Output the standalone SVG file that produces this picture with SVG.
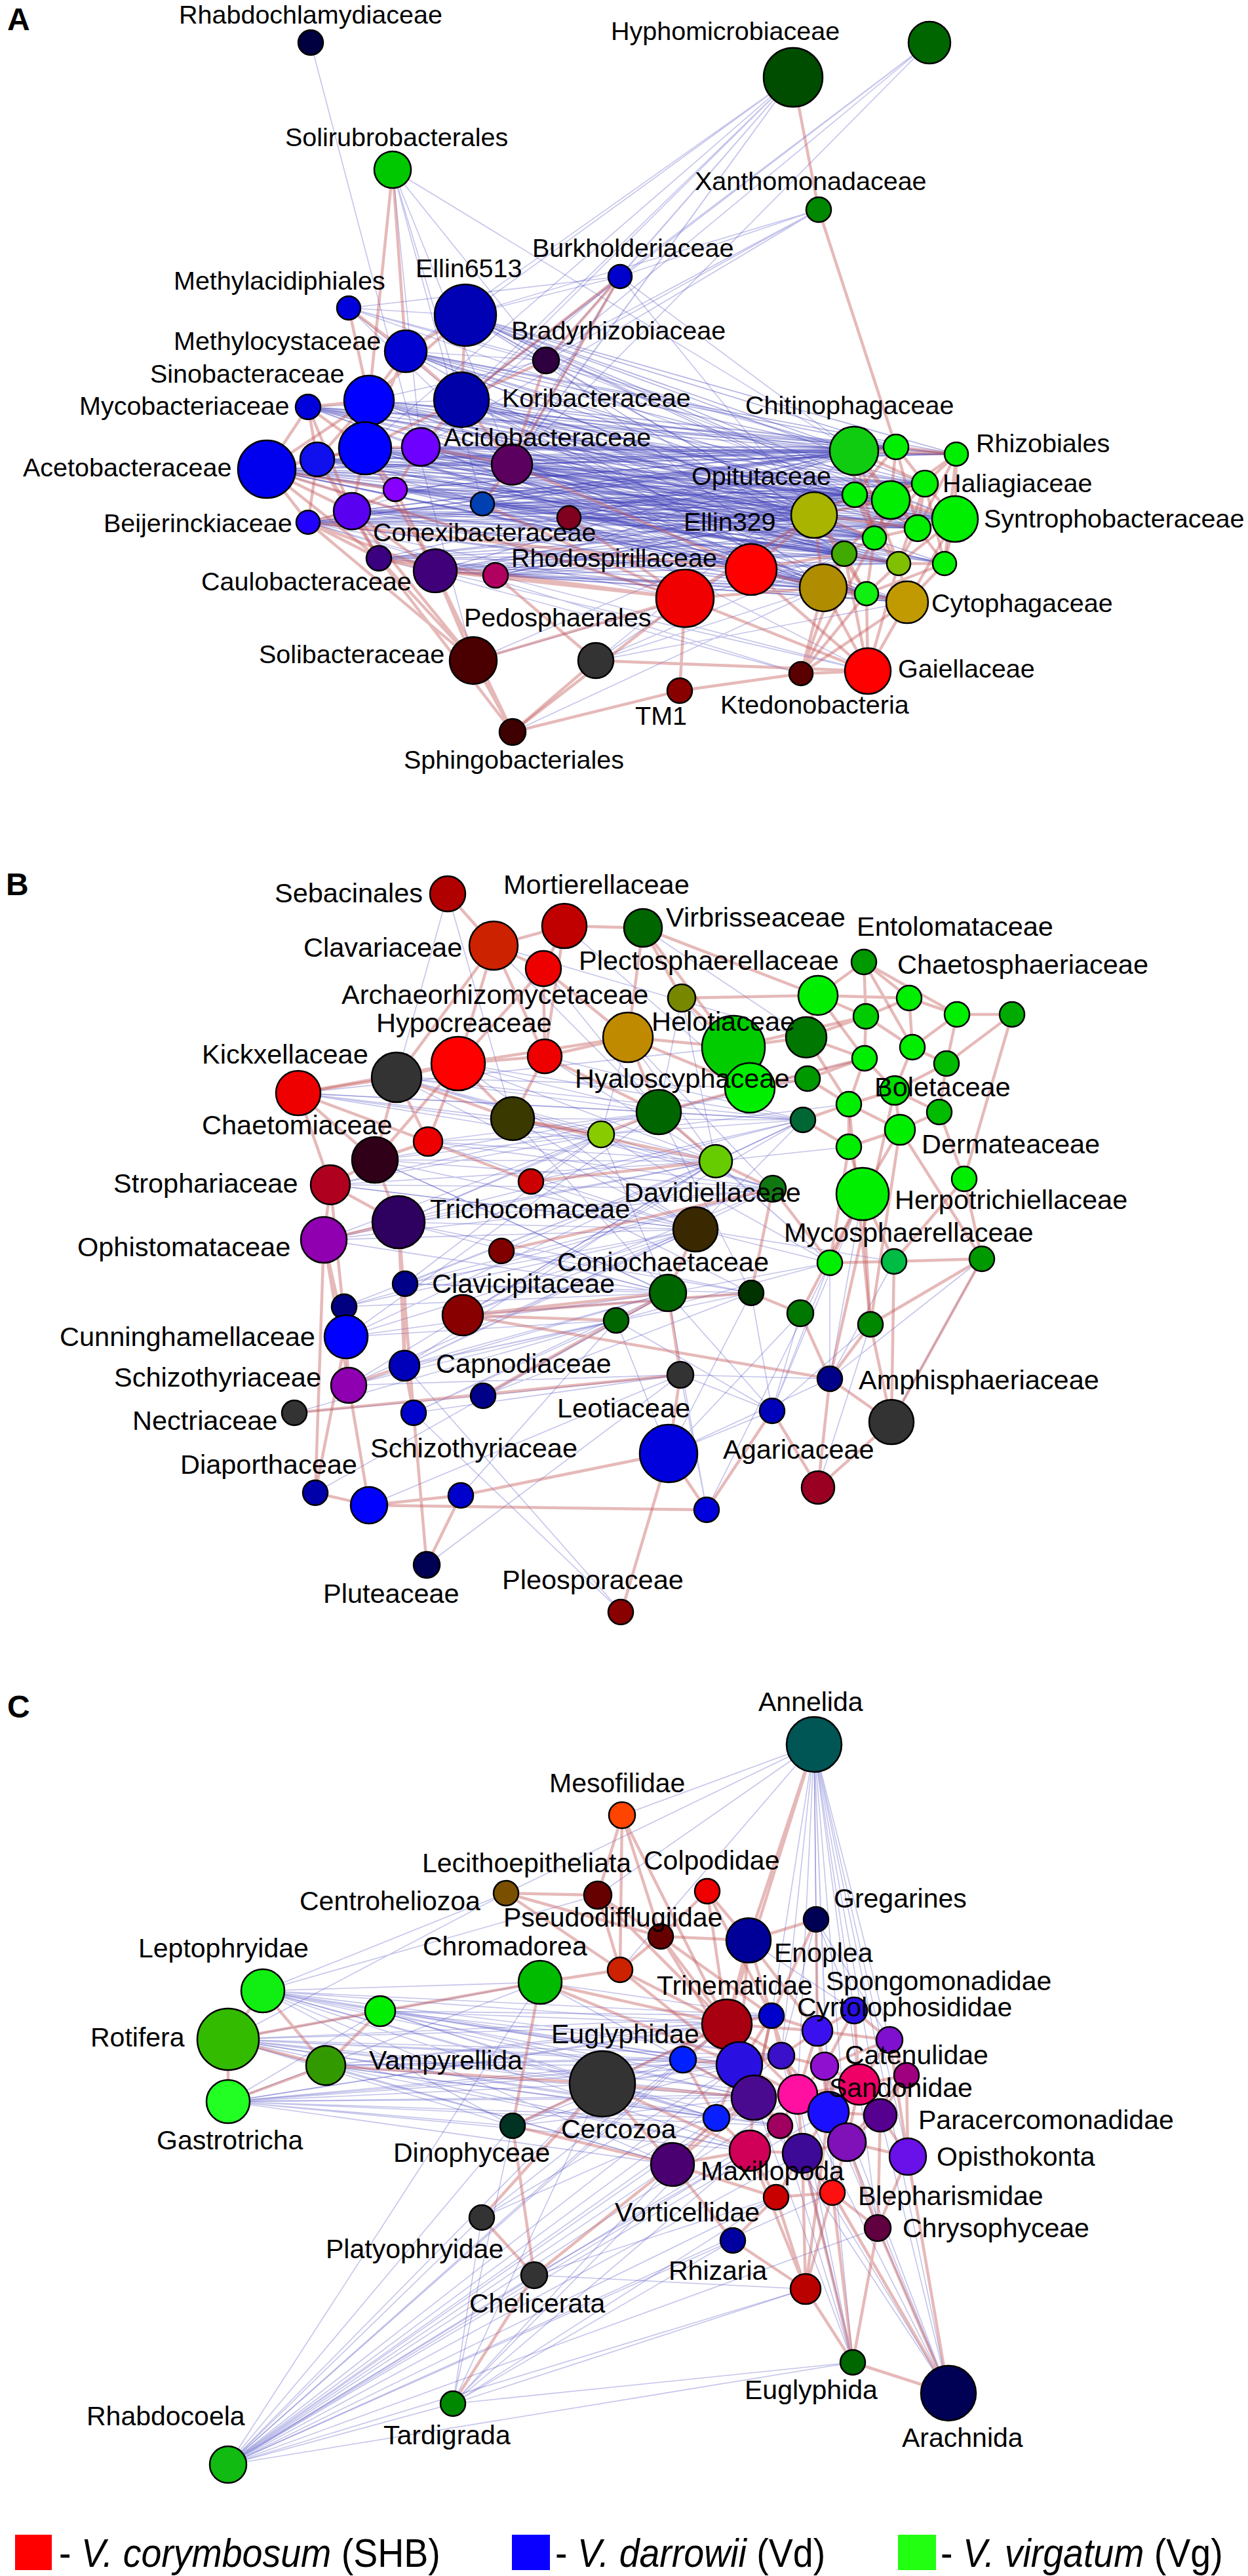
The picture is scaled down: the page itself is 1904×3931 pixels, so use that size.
<svg xmlns="http://www.w3.org/2000/svg" width="1904" height="3931" viewBox="0 0 1904 3931">
<style>
.eb{fill:none;stroke:#4848c0;stroke-opacity:.32;stroke-width:1.6}
.ebd{fill:none;stroke:#4040b8;stroke-opacity:.4;stroke-width:1.7}
.er{fill:none;stroke:#c45858;stroke-opacity:.42;stroke-width:4.5;stroke-linecap:round}
.node circle{stroke:#000;stroke-width:2.5}
.lbl{font-family:"Liberation Sans",Arial,Helvetica,sans-serif;fill:#000}
.la{font-size:39.5px}.lb{font-size:41.5px}.lc{font-size:41px}
.pl{font-family:"Liberation Sans",Arial,Helvetica,sans-serif;font-weight:bold;font-size:48px;fill:#000}
.lg{font-family:"Liberation Sans",Arial,Helvetica,sans-serif;font-size:61px;fill:#000}
.it{font-style:italic}
</style>
<rect width="1904" height="3931" fill="#fff"/>

<!-- ================= PANEL A ================= -->
<g id="panel-A">
<text class="pl" x="11" y="46">A</text>
<g id="connectors-A">
<path class="eb" d="M474 65L722 1008"/>
<path class="eb" d="M599 259L704 610M599 259L781 709M599 259L833 550M599 259L1303 688M599 259L736 769M599 259L642 682"/>
<path class="eb" d="M1210 118L946 422M1210 118L833 550M1210 118L710 481M1210 118L704 610M1210 118L781 709M1210 118L642 682M1210 118L557 684M1210 118L736 769M1210 118L619 536"/>
<path class="eb" d="M1418 65L946 422M1418 65L833 550M1418 65L704 610M1418 65L781 709"/>
<path class="eb" d="M1249 320L946 422M1249 320L833 550M1249 320L710 481M1249 320L704 610M1249 320L642 682"/>
<path class="eb" d="M946 422L532 470M946 422L710 481M946 422L704 610M946 422L781 709M946 422L1303 688M946 422L1242 786M946 422L736 769M946 422L642 682"/>
<path class="eb" d="M532 470L833 550M532 470L1303 688M532 470L1359 763M532 470L704 610M532 470L781 709M532 470L710 481"/>
<path class="eb" d="M833 550L1303 688M833 550L1242 786M833 550L1457 792M833 550L1256 897M833 550L619 536M833 550L710 481M833 550L563 611"/>
<path class="ebd" d="M710 481L1303 688M710 481L1367 682M710 481L1459 693M710 481L1304 755M710 481L1411 738M710 481L1242 786"/>
<path class="ebd" d="M619 536L1303 688M619 536L1459 693M619 536L1359 763M619 536L1242 786M619 536L1400 806"/>
<path class="ebd" d="M563 611L1303 688M563 611L1367 682M563 611L1242 786M563 611L1304 755M563 611L1359 763M563 611L1411 738M563 611L1457 792M563 611L1334 821M563 611L1288 845"/>
<path class="ebd" d="M704 610L1303 688M704 610L1367 682M704 610L1459 693M704 610L1242 786M704 610L1359 763M704 610L1411 738M704 610L1457 792M704 610L1400 806M704 610L1371 860M704 610L1256 897"/>
<path class="ebd" d="M470 621L1303 688M470 621L1459 693M470 621L1242 786M470 621L1359 763M470 621L1457 792"/>
<path class="ebd" d="M642 682L1303 688M642 682L1367 682M642 682L1242 786M642 682L1304 755M642 682L1359 763M642 682L1457 792M642 682L1334 821M642 682L1288 845M642 682L1441 860M642 682L1322 906"/>
<path class="ebd" d="M407 716L1303 688M407 716L1367 682M407 716L1459 693M407 716L1242 786M407 716L1359 763M407 716L1411 738M407 716L1457 792M407 716L1400 806M407 716L1334 821M407 716L1288 845M407 716L1371 860M407 716L1256 897M407 716L1384 919"/>
<path class="ebd" d="M484 701L1303 688M484 701L1242 786M484 701L1304 755M484 701L1411 738M484 701L1400 806M484 701L1288 845M484 701L1441 860M484 701L1256 897"/>
<path class="ebd" d="M557 684L1303 688M557 684L1367 682M557 684L1242 786M557 684L1304 755M557 684L1359 763M557 684L1411 738M557 684L1457 792M557 684L1334 821M557 684L1371 860M557 684L1256 897M557 684L1322 906"/>
<path class="ebd" d="M781 709L1303 688M781 709L1459 693M781 709L1242 786M781 709L1304 755M781 709L1411 738M781 709L1457 792M781 709L1288 845M781 709L1441 860M781 709L1256 897M781 709L1384 919"/>
<path class="ebd" d="M603 747L1303 688M603 747L1242 786M603 747L1359 763M603 747L1400 806M603 747L1288 845M603 747L1256 897M603 747L1322 906"/>
<path class="ebd" d="M736 769L1303 688M736 769L1242 786M736 769L1304 755M736 769L1457 792M736 769L1334 821M736 769L1371 860M736 769L1256 897M736 769L1384 919"/>
<path class="ebd" d="M868 790L1303 688M868 790L1242 786M868 790L1359 763M868 790L1400 806M868 790L1288 845M868 790L1256 897"/>
<path class="ebd" d="M537 780L1303 688M537 780L1242 786M537 780L1359 763M537 780L1457 792M537 780L1334 821M537 780L1288 845M537 780L1256 897M537 780L1384 919"/>
<path class="ebd" d="M470 797L1303 688M470 797L1242 786M470 797L1304 755M470 797L1411 738M470 797L1400 806M470 797L1288 845M470 797L1371 860M470 797L1256 897M470 797L1322 906"/>
<path class="ebd" d="M578 852L1242 786M578 852L1334 821M578 852L1288 845M578 852L1256 897M578 852L1384 919"/>
<path class="ebd" d="M664 871L1303 688M664 871L1242 786M664 871L1457 792M664 871L1288 845M664 871L1256 897M664 871L1322 906"/>
<path class="ebd" d="M756 878L1242 786M756 878L1411 738M756 878L1288 845M756 878L1256 897M756 878L1384 919"/>
<path class="ebd" d="M710 481L1359 763M710 481L1457 792M710 481L1400 806M710 481L1288 845M619 536L1367 682M619 536L1304 755M619 536L1411 738M619 536L1334 821M619 536L1256 897"/>
<path class="ebd" d="M563 611L1459 693M563 611L1400 806M563 611L1371 860M563 611L1256 897M704 610L1304 755M704 610L1334 821M704 610L1288 845M704 610L1441 860M704 610L1322 906"/>
<path class="ebd" d="M470 621L1367 682M470 621L1304 755M470 621L1411 738M470 621L1334 821M470 621L1288 845M470 621L1256 897M642 682L1459 693M642 682L1411 738M642 682L1400 806M642 682L1371 860M642 682L1256 897"/>
<path class="ebd" d="M407 716L1304 755M407 716L1441 860M407 716L1322 906M484 701L1367 682M484 701L1459 693M484 701L1359 763M484 701L1457 792M484 701L1334 821M484 701L1371 860"/>
<path class="ebd" d="M557 684L1459 693M557 684L1400 806M557 684L1288 845M557 684L1441 860M557 684L1384 919M781 709L1367 682M781 709L1359 763M781 709L1400 806M781 709L1334 821M781 709L1371 860"/>
<path class="ebd" d="M603 747L1367 682M603 747L1304 755M603 747L1411 738M603 747L1457 792M603 747L1334 821M603 747L1371 860M736 769L1367 682M736 769L1359 763M736 769L1411 738M736 769L1400 806M736 769L1288 845"/>
<path class="ebd" d="M868 790L1367 682M868 790L1304 755M868 790L1457 792M868 790L1334 821M868 790L1371 860M868 790L1384 919M537 780L1367 682M537 780L1304 755M537 780L1411 738M537 780L1400 806M537 780L1371 860"/>
<path class="ebd" d="M470 797L1367 682M470 797L1359 763M470 797L1457 792M470 797L1334 821M470 797L1384 919M578 852L1303 688M578 852L1359 763M578 852L1457 792M578 852L1371 860"/>
<path class="ebd" d="M664 871L1304 755M664 871L1411 738M664 871L1334 821M664 871L1371 860M664 871L1384 919M756 878L1303 688M756 878L1359 763M756 878L1334 821M756 878L1371 860"/>
<path class="eb" d="M407 716L1146 869M407 716L1045 913M470 797L1045 913M470 621L1146 869M407 716L781 709M407 716L736 769M407 716L868 790M470 621L704 610M470 621L781 709M470 797L781 709M470 797L736 769M470 797L756 878M484 701L781 709M537 780L868 790"/>
<path class="eb" d="M909 1008L1303 688M909 1008L1242 786M909 1008L1256 897M909 1008L1288 845M909 1008L1384 919M782 1117L1256 897M722 1008L1242 786M722 1008L1288 845M756 878L1324 1024M664 871L1324 1024M578 852L1222 1028M868 790L1324 1024M470 797L1222 1028"/>
<path class="er" d="M1210 118L1249 320M1249 320L1367 682M599 259L619 536M599 259L563 611M946 422L833 550M946 422L704 610M946 422L781 709"/>
<path class="er" d="M532 470L619 536M532 470L563 611M710 481L619 536M710 481L704 610M710 481L563 611M619 536L563 611M619 536L704 610M619 536L557 684"/>
<path class="er" d="M563 611L470 621M563 611L407 716M563 611L484 701M563 611L557 684M704 610L642 682M704 610L557 684M704 610L833 550M704 610L781 709"/>
<path class="er" d="M470 621L407 716M470 621L484 701M470 621L557 684M470 621L537 780"/>
<path class="er" d="M407 716L484 701M407 716L557 684M407 716L537 780M407 716L470 797M407 716L603 747M407 716L578 852"/>
<path class="er" d="M484 701L557 684M484 701L537 780M484 701L470 797M484 701L578 852"/>
<path class="er" d="M557 684L642 682M557 684L603 747M557 684L537 780M557 684L664 871"/>
<path class="er" d="M603 747L537 780M603 747L642 682M603 747L664 871"/>
<path class="er" d="M537 780L470 797M537 780L578 852M537 780L664 871"/>
<path class="er" d="M470 797L578 852M470 797L664 871M578 852L664 871M664 871L756 878M642 682L781 709M781 709L833 550M781 709L736 769"/>
<path class="er" d="M470 797L722 1008M578 852L722 1008M664 871L722 1008M537 780L722 1008M664 871L782 1117M578 852L782 1117M722 1008L782 1117M909 1008L782 1117"/>
<path class="er" d="M756 878L1045 913M664 871L1045 913M736 769L1045 913M868 790L1045 913M781 709L1146 869M578 852L1045 913M470 797L1146 869M407 716L1045 913M756 878L909 1008"/>
<path class="er" d="M782 1117L1037 1054M909 1008L1324 1024M1037 1054L1222 1028M1222 1028L1324 1024M1045 913L1037 1054M1045 913L1256 897M1146 869L1256 897M1045 913L1242 786M1146 869L1242 786M1146 869L1288 845M1045 913L1324 1024M1146 869L1324 1024M782 1117L1045 913M722 1008L1045 913"/>
<path class="er" d="M1303 688L1367 682M1303 688L1304 755M1303 688L1359 763M1303 688L1411 738M1303 688L1400 806M1303 688L1334 821M1303 688L1371 860M1303 688L1459 693"/>
<path class="er" d="M1367 682L1459 693M1367 682L1359 763M1367 682L1411 738M1367 682L1304 755M1367 682L1400 806"/>
<path class="er" d="M1459 693L1411 738M1459 693L1457 792M1459 693L1359 763M1459 693L1441 860M1459 693L1400 806"/>
<path class="er" d="M1242 786L1304 755M1242 786L1359 763M1242 786L1334 821M1242 786L1288 845M1242 786L1256 897M1242 786L1400 806M1242 786L1322 906"/>
<path class="er" d="M1304 755L1359 763M1304 755L1334 821M1304 755L1411 738M1304 755L1400 806M1304 755L1371 860"/>
<path class="er" d="M1359 763L1411 738M1359 763L1400 806M1359 763L1334 821M1359 763L1457 792M1359 763L1288 845"/>
<path class="er" d="M1411 738L1457 792M1411 738L1400 806M1411 738L1334 821M1411 738L1371 860M1411 738L1441 860"/>
<path class="er" d="M1457 792L1400 806M1457 792L1441 860M1457 792L1371 860M1457 792L1384 919"/>
<path class="er" d="M1400 806L1334 821M1400 806L1371 860M1400 806L1441 860"/>
<path class="er" d="M1334 821L1288 845M1334 821L1371 860M1334 821L1322 906"/>
<path class="er" d="M1288 845L1371 860M1288 845L1256 897M1288 845L1322 906M1288 845L1324 1024"/>
<path class="er" d="M1371 860L1441 860M1371 860L1322 906M1371 860L1384 919M1371 860L1324 1024M1441 860L1384 919M1441 860L1322 906"/>
<path class="er" d="M1256 897L1322 906M1256 897L1384 919M1322 906L1384 919M1256 897L1324 1024M1322 906L1324 1024M1384 919L1324 1024"/>
<path class="er" d="M1222 1028L1256 897M1222 1028L1288 845M1222 1028L1322 906M1222 1028L1334 821M1222 1028L1384 919"/>
</g>
<g id="nodes-A">
<g id="a-rhabdochlamydiaceae" class="node"><circle cx="474" cy="65" r="19" fill="#000040"/></g>
<g id="a-solirubrobacterales" class="node"><circle cx="599" cy="259" r="28" fill="#00c800"/></g>
<g id="a-burkholderiaceae" class="node"><circle cx="946" cy="422" r="18" fill="#0000cc"/></g>
<g id="a-methylacidiphiales" class="node"><circle cx="532" cy="470" r="18" fill="#0000dd"/></g>
<g id="a-ellin6513" class="node"><circle cx="710" cy="481" r="47" fill="#0000b4"/></g>
<g id="a-methylocystaceae" class="node"><circle cx="619" cy="536" r="32" fill="#0000d0"/></g>
<g id="a-bradyrhizobiaceae" class="node"><circle cx="833" cy="550" r="20" fill="#2e0040"/></g>
<g id="a-sinobacteraceae" class="node"><circle cx="563" cy="611" r="38" fill="#0000ff"/></g>
<g id="a-koribacteraceae" class="node"><circle cx="704" cy="610" r="42" fill="#0000a8"/></g>
<g id="a-mycobacteriaceae" class="node"><circle cx="470" cy="621" r="19" fill="#0000dd"/></g>
<g id="a-acidobacteraceae" class="node"><circle cx="642" cy="682" r="29" fill="#6e00ff"/></g>
<g id="a-acetobacteraceae" class="node"><circle cx="407" cy="716" r="44" fill="#0000ee"/></g>
<g id="a-n13" class="node"><circle cx="484" cy="701" r="26" fill="#1010ee"/></g>
<g id="a-n14" class="node"><circle cx="557" cy="684" r="40" fill="#0000ff"/></g>
<g id="a-n15" class="node"><circle cx="781" cy="709" r="31" fill="#5c0060"/></g>
<g id="a-n16" class="node"><circle cx="603" cy="747" r="18" fill="#8800ff"/></g>
<g id="a-n17" class="node"><circle cx="736" cy="769" r="18" fill="#0040b0"/></g>
<g id="a-n18" class="node"><circle cx="868" cy="790" r="18" fill="#800020"/></g>
<g id="a-n19" class="node"><circle cx="537" cy="780" r="28" fill="#5a00f0"/></g>
<g id="a-beijerinckiaceae" class="node"><circle cx="470" cy="797" r="18" fill="#2200ff"/></g>
<g id="a-caulobacteraceae" class="node"><circle cx="578" cy="852" r="19" fill="#3a0080"/></g>
<g id="a-conexibacteraceae" class="node"><circle cx="664" cy="871" r="33" fill="#40007a"/></g>
<g id="a-rhodospirillaceae" class="node"><circle cx="756" cy="878" r="19" fill="#b00060"/></g>
<g id="a-pedosphaerales" class="node"><circle cx="909" cy="1008" r="27" fill="#333333"/></g>
<g id="a-solibacteraceae" class="node"><circle cx="722" cy="1008" r="36" fill="#4a0000"/></g>
<g id="a-sphingobacteriales" class="node"><circle cx="782" cy="1117" r="20" fill="#3e0000"/></g>
<g id="a-hyphomicrobiaceae" class="node"><circle cx="1210" cy="118" r="45" fill="#004d00"/></g>
<g id="a-n28" class="node"><circle cx="1418" cy="65" r="32" fill="#006600"/></g>
<g id="a-xanthomonadaceae" class="node"><circle cx="1249" cy="320" r="19" fill="#008800"/></g>
<g id="a-chitinophagaceae" class="node"><circle cx="1303" cy="688" r="37" fill="#10cc10"/></g>
<g id="a-n31" class="node"><circle cx="1367" cy="682" r="19" fill="#00ee00"/></g>
<g id="a-rhizobiales" class="node"><circle cx="1459" cy="693" r="18" fill="#00ee00"/></g>
<g id="a-opitutaceae" class="node"><circle cx="1242" cy="786" r="35" fill="#a8b400"/></g>
<g id="a-n34" class="node"><circle cx="1304" cy="755" r="19" fill="#00ee00"/></g>
<g id="a-n35" class="node"><circle cx="1359" cy="763" r="29" fill="#00ee00"/></g>
<g id="a-haliagiaceae" class="node"><circle cx="1411" cy="738" r="20" fill="#00ee00"/></g>
<g id="a-syntrophobacteraceae" class="node"><circle cx="1457" cy="792" r="35" fill="#00ee00"/></g>
<g id="a-n38" class="node"><circle cx="1400" cy="806" r="20" fill="#00ee00"/></g>
<g id="a-n39" class="node"><circle cx="1334" cy="821" r="18" fill="#00ee00"/></g>
<g id="a-n40" class="node"><circle cx="1288" cy="845" r="19" fill="#40aa00"/></g>
<g id="a-n41" class="node"><circle cx="1371" cy="860" r="18" fill="#80c000"/></g>
<g id="a-n42" class="node"><circle cx="1441" cy="860" r="18" fill="#00ee00"/></g>
<g id="a-ellin329" class="node"><circle cx="1146" cy="869" r="39" fill="#ff0000"/></g>
<g id="a-n44" class="node"><circle cx="1045" cy="913" r="44" fill="#f00000"/></g>
<g id="a-n45" class="node"><circle cx="1256" cy="897" r="36" fill="#b08c00"/></g>
<g id="a-n46" class="node"><circle cx="1322" cy="906" r="18" fill="#11ee11"/></g>
<g id="a-cytophagaceae" class="node"><circle cx="1384" cy="919" r="32" fill="#c09a00"/></g>
<g id="a-gaiellaceae" class="node"><circle cx="1324" cy="1024" r="35" fill="#ff0000"/></g>
<g id="a-ktedonobacteria" class="node"><circle cx="1222" cy="1028" r="18" fill="#5a0000"/></g>
<g id="a-tm1" class="node"><circle cx="1037" cy="1054" r="19" fill="#880000"/></g>
</g>
<g id="labels-A" class="lbl la">
<text x="273" y="36">Rhabdochlamydiaceae</text>
<text x="435" y="223">Solirubrobacterales</text>
<text x="812" y="392">Burkholderiaceae</text>
<text x="265" y="442">Methylacidiphiales</text>
<text x="634" y="423">Ellin6513</text>
<text x="265" y="534">Methylocystaceae</text>
<text x="780" y="518">Bradyrhizobiaceae</text>
<text x="229" y="584">Sinobacteraceae</text>
<text x="766" y="621">Koribacteraceae</text>
<text x="121" y="633">Mycobacteriaceae</text>
<text x="677" y="681">Acidobacteraceae</text>
<text x="35" y="727">Acetobacteraceae</text>
<text x="158" y="812">Beijerinckiaceae</text>
<text x="569" y="826">Conexibacteraceae</text>
<text x="780" y="865">Rhodospirillaceae</text>
<text x="307" y="901">Caulobacteraceae</text>
<text x="708" y="956">Pedosphaerales</text>
<text x="395" y="1012">Solibacteraceae</text>
<text x="616" y="1173">Sphingobacteriales</text>
<text x="932" y="61">Hyphomicrobiaceae</text>
<text x="1060" y="290">Xanthomonadaceae</text>
<text x="1137" y="632">Chitinophagaceae</text>
<text x="1489" y="690">Rhizobiales</text>
<text x="1055" y="740">Opitutaceae</text>
<text x="1438" y="751">Haliagiaceae</text>
<text x="1501" y="805">Syntrophobacteraceae</text>
<text x="1043" y="810">Ellin329</text>
<text x="1421" y="934">Cytophagaceae</text>
<text x="1370" y="1034">Gaiellaceae</text>
<text x="1099" y="1089">Ktedonobacteria</text>
<text x="969" y="1106">TM1</text>
</g>
</g>

<!-- ================= PANEL B ================= -->
<g id="panel-B">
<text class="pl" x="9" y="1366">B</text>
<g id="connectors-B">
<path class="eb" d="M683 1364L605 1644M683 1364L782 1707M455 1668L1005 1697M455 1668L1119 1598M455 1668L917 1731M455 1668L782 1707"/>
<path class="eb" d="M605 1644L1005 1697M605 1644L917 1731M605 1644L1092 1772M605 1644L1061 1876M605 1644L1179 1814M653 1742L917 1731M653 1742L1092 1772M653 1742L1179 1814"/>
<path class="eb" d="M572 1770L1005 1697M572 1770L1092 1772M572 1770L1061 1876M572 1770L1019 1973M504 1808L917 1731M504 1808L1092 1772M504 1808L1061 1876"/>
<path class="eb" d="M608 1865L1005 1697M608 1865L1092 1772M608 1865L1179 1814M608 1865L1061 1876M608 1865L1019 1973"/>
<path class="eb" d="M494 1892L917 1731M494 1892L1061 1876M494 1892L1179 1814M494 1892L1225 1709"/>
<path class="eb" d="M618 1959L1061 1876M618 1959L1019 1973M618 1959L1092 1772M618 1959L917 1731M525 1994L1092 1772M525 1994L1061 1876"/>
<path class="eb" d="M528 2040L1061 1876M528 2040L1019 1973M528 2040L1005 1697M532 2114L1061 1876M532 2114L1019 1973M532 2114L940 2015"/>
<path class="eb" d="M617 2084L1092 1772M617 2084L1179 1814M617 2084L1061 1876M617 2084L1019 1973M631 2156L940 2015M631 2156L1019 1973"/>
<path class="eb" d="M449 2156L940 2015M449 2156L737 2130M481 2278L1019 1973M563 2297L1038 2098M703 2282L940 2015M651 2388L1038 2098"/>
<path class="eb" d="M782 1707L1061 1876M782 1707L1179 1814M782 1707L1019 1973M810 1803L1061 1876M810 1803L917 1731M810 1803L1146 1973M765 1909L1019 1973M765 1909L1146 1973"/>
<path class="eb" d="M706 2007L1179 1814M706 2007L1092 1772M706 2007L1061 1876M737 2130L1019 1973M737 2130L1038 2098"/>
<path class="eb" d="M917 1731L1225 1709M917 1731L1179 1814M1005 1697L1225 1709M1092 1772L1225 1709M1061 1876L1225 1709M1061 1876L1266 1927M1019 1973L1266 1927"/>
<path class="eb" d="M940 2015L1178 2153M1038 2098L1178 2153M1020 2218L1178 2153M1020 2218L1266 2104M948 2460L631 2156M948 2460L617 2084"/>
<path class="eb" d="M699 1623L1005 1697M699 1623L1092 1772M699 1623L1225 1709M831 1612L1092 1772M958 1583L917 1731M753 1443L1005 1697M753 1443L1230 1583M829 1478L1005 1697M861 1413L1144 1660"/>
<path class="eb" d="M1316 1822L1266 2104M1316 1822L1178 2153M1266 1927L1178 2153M1266 1927L1266 2104M1364 1925L1266 2104M1498 1921L1266 2104M1328 2021L1248 2270"/>
<path class="eb" d="M1221 2004L1020 2218M1146 1973L1020 2218M1019 1973L1078 2304M1038 2098L1078 2304M940 2015L1020 2218M1360 2170L1498 1921M1266 1927L1078 2304"/>
<path class="eb" d="M1295 1685L917 1731M1225 1709L1092 1772M1295 1750L1092 1772M1319 1615L1005 1697M1232 1646L1005 1697M572 1770L1019 1973M504 1808L1061 1876"/>
<path class="eb" d="M981 1416L1230 1583M1040 1523L1144 1660M1040 1523L1005 1697M958 1583L1092 1772M1019 1973L1178 2153M1146 1973L1178 2153M1221 2004L1178 2153M1328 2021L1178 2153"/>
<path class="eb" d="M455 1668L1092 1772M455 1668L1225 1709M605 1644L1225 1709M605 1644L1144 1660M653 1742L1061 1876M653 1742L1005 1697M572 1770L917 1731M572 1770L1179 1814M504 1808L1005 1697M504 1808L1179 1814"/>
<path class="eb" d="M608 1865L917 1731M608 1865L1146 1973M494 1892L1092 1772M494 1892L1019 1973M618 1959L1179 1814M618 1959L1146 1973M525 1994L1179 1814M525 1994L1019 1973M528 2040L1092 1772M528 2040L940 2015"/>
<path class="eb" d="M532 2114L1092 1772M532 2114L1038 2098M617 2084L1146 1973M617 2084L940 2015M631 2156L1038 2098M706 2007L1146 1973M706 2007L1225 1709M782 1707L1225 1709M810 1803L1225 1709M765 1909L1092 1772M737 2130L1146 1973"/>
<path class="eb" d="M917 1731L1266 1927M1005 1697L1266 1927M1092 1772L1266 1927M1061 1876L1364 1925M940 2015L1266 1927M1038 2098L1266 2104M699 1623L1061 1876M831 1612L1225 1709M958 1583L1179 1814M1040 1523L1092 1772M917 1731L1019 1973M1005 1697L1146 1973"/>
<path class="er" d="M683 1364L753 1443M861 1413L753 1443M861 1413L829 1478M861 1413L981 1416M753 1443L829 1478M753 1443L699 1623M753 1443L605 1644M861 1413L831 1612"/>
<path class="er" d="M829 1478L699 1623M829 1478L958 1583M981 1416L1040 1523M981 1416L1119 1598M981 1416L1248 1519M981 1416L958 1583M753 1443L831 1612M829 1478L831 1612"/>
<path class="er" d="M699 1623L831 1612M699 1623L605 1644M699 1623L455 1668M699 1623L653 1742M831 1612L958 1583M831 1612L782 1707M699 1623L782 1707M699 1623L958 1583"/>
<path class="er" d="M605 1644L455 1668M605 1644L572 1770M605 1644L653 1742M455 1668L572 1770M455 1668L504 1808M455 1668L653 1742M653 1742L572 1770M572 1770L699 1623"/>
<path class="er" d="M572 1770L504 1808M572 1770L608 1865M504 1808L494 1892M504 1808L608 1865M608 1865L494 1892M494 1892L528 2040M504 1808L528 2040M494 1892L532 2114M494 1892L481 2278"/>
<path class="er" d="M528 2040L532 2114M525 1994L528 2040M617 2084L532 2114M532 2114L563 2297M528 2040L481 2278M563 2297L481 2278M563 2297L703 2282M617 2084L631 2156M631 2156L651 2388M703 2282L651 2388M618 1959L617 2084M608 1865L617 2084M608 1865L631 2156"/>
<path class="er" d="M449 2156L1038 2098M563 2297L1078 2304M958 1583L1119 1598M958 1583L1144 1660M1040 1523L1119 1598M1040 1523L1248 1519M605 1644L782 1707M653 1742L810 1803M782 1707L917 1731"/>
<path class="er" d="M810 1803L1092 1772M782 1707L1092 1772M765 1909L1179 1814M706 2007L1019 1973M706 2007L940 2015M737 2130L940 2015M703 2282L1020 2218M706 2007L1266 2104M706 2007L1146 1973M831 1612L1005 1697M958 1583L1005 1697M917 1731L1005 1697"/>
<path class="er" d="M1248 1519L1318 1468M1248 1519L1321 1551M1248 1519L1230 1583M1248 1519L1319 1615M1248 1519L1387 1523M1318 1468L1387 1523M1318 1468L1321 1551M1318 1468L1392 1598M1318 1468L1460 1548"/>
<path class="er" d="M1387 1523L1460 1548M1387 1523L1392 1598M1387 1523L1321 1551M1460 1548L1544 1548M1460 1548L1392 1598M1460 1548L1444 1623M1544 1548L1444 1623M1544 1548L1471 1799"/>
<path class="er" d="M1321 1551L1319 1615M1321 1551L1392 1598M1392 1598L1444 1623M1392 1598L1365 1664M1319 1615L1295 1685M1319 1615L1365 1664M1444 1623L1365 1664M1444 1623L1433 1697"/>
<path class="er" d="M1365 1664L1295 1685M1365 1664L1373 1724M1365 1664L1433 1697M1295 1685L1373 1724M1295 1685L1295 1750M1433 1697L1373 1724M1433 1697L1471 1799M1373 1724L1295 1750M1373 1724L1316 1822M1295 1750L1316 1822"/>
<path class="er" d="M1230 1583L1319 1615M1230 1583L1295 1685M1232 1646L1295 1685M1232 1646L1319 1615M1119 1598L1230 1583M1119 1598L1144 1660M1144 1660L1232 1646M1225 1709L1295 1750M1225 1709L1295 1685"/>
<path class="er" d="M1316 1822L1266 1927M1316 1822L1364 1925M1316 1822L1328 2021M1471 1799L1498 1921M1373 1724L1498 1921M1295 1750L1266 1927M1119 1598L1321 1551M1144 1660L1319 1615M1230 1583L1321 1551"/>
<path class="er" d="M1005 1697L1144 1660M1005 1697L1092 1772M1092 1772L1179 1814M1179 1814L1266 1927M1266 1927L1364 1925M1364 1925L1498 1921M1316 1822L1221 2004M1328 2021L1360 2170M1328 2021L1266 2104M1364 1925L1360 2170"/>
<path class="er" d="M1221 2004L1266 2104M1019 1973L940 2015M1019 1973L1038 2098M1146 1973L1221 2004M1061 1876L1019 1973M1179 1814L1146 1973M1038 2098L1020 2218M1266 2104L1360 2170M1266 2104L1248 2270M1178 2153L1248 2270M1360 2170L1248 2270"/>
<path class="er" d="M1020 2218L1078 2304M1178 2153L1078 2304M948 2460L1020 2218M1498 1921L1328 2021M1471 1799L1364 1925M1498 1921L1360 2170M1373 1724L1328 2021M1295 1685L1328 2021M1365 1664L1266 2104"/>
</g>
<g id="nodes-B">
<g id="b-sebacinales" class="node"><circle cx="683" cy="1364" r="27" fill="#b00000"/></g>
<g id="b-mortierellaceae" class="node"><circle cx="861" cy="1413" r="34" fill="#c00000"/></g>
<g id="b-clavariaceae" class="node"><circle cx="753" cy="1443" r="37" fill="#cc2200"/></g>
<g id="b-plectosphaerellaceae" class="node"><circle cx="829" cy="1478" r="27" fill="#ee0000"/></g>
<g id="b-virbrisseaceae" class="node"><circle cx="981" cy="1416" r="29" fill="#006600"/></g>
<g id="b-entolomataceae" class="node"><circle cx="1318" cy="1468" r="19" fill="#009900"/></g>
<g id="b-archaeorhizomycetaceae" class="node"><circle cx="1040" cy="1523" r="21" fill="#778800"/></g>
<g id="b-hypocreaceae" class="node"><circle cx="699" cy="1623" r="41" fill="#ff0000"/></g>
<g id="b-n9" class="node"><circle cx="831" cy="1612" r="26" fill="#ee0000"/></g>
<g id="b-n10" class="node"><circle cx="958" cy="1583" r="38" fill="#c08a00"/></g>
<g id="b-kickxellaceae" class="node"><circle cx="455" cy="1668" r="34" fill="#ee0000"/></g>
<g id="b-n12" class="node"><circle cx="605" cy="1644" r="38" fill="#333333"/></g>
<g id="b-helotiaceae" class="node"><circle cx="1119" cy="1598" r="48" fill="#00cc00"/></g>
<g id="b-n14" class="node"><circle cx="1248" cy="1519" r="30" fill="#00ee00"/></g>
<g id="b-n15" class="node"><circle cx="1230" cy="1583" r="31" fill="#007700"/></g>
<g id="b-hyaloscyphaceae" class="node"><circle cx="1144" cy="1660" r="38" fill="#00ee00"/></g>
<g id="b-n17" class="node"><circle cx="1232" cy="1646" r="19" fill="#009900"/></g>
<g id="b-n18" class="node"><circle cx="1005" cy="1697" r="34" fill="#006600"/></g>
<g id="b-n19" class="node"><circle cx="782" cy="1707" r="33" fill="#3a3a00"/></g>
<g id="b-n20" class="node"><circle cx="917" cy="1731" r="20" fill="#88cc00"/></g>
<g id="b-n21" class="node"><circle cx="653" cy="1742" r="22" fill="#ee0000"/></g>
<g id="b-chaetomiaceae" class="node"><circle cx="572" cy="1770" r="35" fill="#300018"/></g>
<g id="b-strophariaceae" class="node"><circle cx="504" cy="1808" r="30" fill="#b00020"/></g>
<g id="b-n24" class="node"><circle cx="810" cy="1803" r="19" fill="#cc0000"/></g>
<g id="b-trichocomaceae" class="node"><circle cx="608" cy="1865" r="40" fill="#2e0060"/></g>
<g id="b-ophistomataceae" class="node"><circle cx="494" cy="1892" r="35" fill="#9000b0"/></g>
<g id="b-n27" class="node"><circle cx="765" cy="1909" r="19" fill="#800000"/></g>
<g id="b-chaetosphaeriaceae" class="node"><circle cx="1387" cy="1523" r="19" fill="#00ee00"/></g>
<g id="b-n29" class="node"><circle cx="1460" cy="1548" r="19" fill="#00ee00"/></g>
<g id="b-n30" class="node"><circle cx="1544" cy="1548" r="19" fill="#00aa00"/></g>
<g id="b-n31" class="node"><circle cx="1321" cy="1551" r="19" fill="#00cc00"/></g>
<g id="b-n32" class="node"><circle cx="1392" cy="1598" r="19" fill="#00ee00"/></g>
<g id="b-n33" class="node"><circle cx="1319" cy="1615" r="19" fill="#00ee00"/></g>
<g id="b-n34" class="node"><circle cx="1444" cy="1623" r="19" fill="#00bb00"/></g>
<g id="b-boletaceae" class="node"><circle cx="1365" cy="1664" r="22" fill="#00dd00"/></g>
<g id="b-n36" class="node"><circle cx="1295" cy="1685" r="19" fill="#00ee00"/></g>
<g id="b-n37" class="node"><circle cx="1433" cy="1697" r="19" fill="#00bb00"/></g>
<g id="b-n38" class="node"><circle cx="1225" cy="1709" r="19" fill="#006633"/></g>
<g id="b-dermateaceae" class="node"><circle cx="1373" cy="1724" r="23" fill="#00ee00"/></g>
<g id="b-n40" class="node"><circle cx="1295" cy="1750" r="19" fill="#00ee00"/></g>
<g id="b-n41" class="node"><circle cx="1092" cy="1772" r="25" fill="#66cc00"/></g>
<g id="b-n42" class="node"><circle cx="1471" cy="1799" r="19" fill="#00ee00"/></g>
<g id="b-davidiellaceae" class="node"><circle cx="1179" cy="1814" r="20" fill="#117711"/></g>
<g id="b-herpotrichiellaceae" class="node"><circle cx="1316" cy="1822" r="40" fill="#00ee00"/></g>
<g id="b-coniochaetaceae" class="node"><circle cx="1061" cy="1876" r="34" fill="#3a2800"/></g>
<g id="b-mycosphaerellaceae" class="node"><circle cx="1266" cy="1927" r="19" fill="#00ee00"/></g>
<g id="b-n47" class="node"><circle cx="1364" cy="1925" r="19" fill="#00bb44"/></g>
<g id="b-n48" class="node"><circle cx="1498" cy="1921" r="19" fill="#009900"/></g>
<g id="b-n49" class="node"><circle cx="1019" cy="1973" r="28" fill="#006600"/></g>
<g id="b-n50" class="node"><circle cx="1146" cy="1973" r="19" fill="#003300"/></g>
<g id="b-n51" class="node"><circle cx="1221" cy="2004" r="20" fill="#007700"/></g>
<g id="b-n52" class="node"><circle cx="1328" cy="2021" r="19" fill="#008800"/></g>
<g id="b-n53" class="node"><circle cx="940" cy="2015" r="19" fill="#006600"/></g>
<g id="b-n54" class="node"><circle cx="1038" cy="2098" r="20" fill="#333333"/></g>
<g id="b-amphisphaeriaceae" class="node"><circle cx="1266" cy="2104" r="19" fill="#000088"/></g>
<g id="b-n56" class="node"><circle cx="1178" cy="2153" r="19" fill="#0000bb"/></g>
<g id="b-n57" class="node"><circle cx="1360" cy="2170" r="34" fill="#333333"/></g>
<g id="b-leotiaceae" class="node"><circle cx="1020" cy="2218" r="44" fill="#0000dd"/></g>
<g id="b-agaricaceae" class="node"><circle cx="1248" cy="2270" r="25" fill="#990022"/></g>
<g id="b-n60" class="node"><circle cx="1078" cy="2304" r="19" fill="#0000dd"/></g>
<g id="b-pleosporaceae" class="node"><circle cx="947" cy="2460" r="19" fill="#880000"/></g>
<g id="b-n62" class="node"><circle cx="618" cy="1959" r="19" fill="#000088"/></g>
<g id="b-n63" class="node"><circle cx="525" cy="1994" r="19" fill="#000080"/></g>
<g id="b-clavicipitaceae" class="node"><circle cx="706" cy="2007" r="31" fill="#880000"/></g>
<g id="b-cunninghamellaceae" class="node"><circle cx="528" cy="2040" r="33" fill="#0000ff"/></g>
<g id="b-capnodiaceae" class="node"><circle cx="617" cy="2084" r="23" fill="#0000bb"/></g>
<g id="b-schizothyriaceae-1" class="node"><circle cx="532" cy="2114" r="27" fill="#8e00b0"/></g>
<g id="b-n68" class="node"><circle cx="737" cy="2130" r="19" fill="#000088"/></g>
<g id="b-nectriaceae" class="node"><circle cx="449" cy="2156" r="19" fill="#333333"/></g>
<g id="b-n70" class="node"><circle cx="631" cy="2156" r="19" fill="#0000cc"/></g>
<g id="b-diaporthaceae" class="node"><circle cx="481" cy="2278" r="19" fill="#0000aa"/></g>
<g id="b-n72" class="node"><circle cx="563" cy="2297" r="28" fill="#0000ff"/></g>
<g id="b-schizothyriaceae-2" class="node"><circle cx="703" cy="2282" r="19" fill="#0000cc"/></g>
<g id="b-pluteaceae" class="node"><circle cx="651" cy="2388" r="20" fill="#000055"/></g>
</g>
<g id="labels-B" class="lbl lb">
<text x="419" y="1377">Sebacinales</text>
<text x="768" y="1364">Mortierellaceae</text>
<text x="463" y="1460">Clavariaceae</text>
<text x="883" y="1480">Plectosphaerellaceae</text>
<text x="1016" y="1414">Virbrisseaceae</text>
<text x="1307" y="1428">Entolomataceae</text>
<text x="1369" y="1486">Chaetosphaeriaceae</text>
<text x="521" y="1532">Archaeorhizomycetaceae</text>
<text x="574" y="1575">Hypocreaceae</text>
<text x="308" y="1623">Kickxellaceae</text>
<text x="994" y="1573">Helotiaceae</text>
<text x="877" y="1660">Hyaloscyphaceae</text>
<text x="308" y="1731">Chaetomiaceae</text>
<text x="173" y="1820">Strophariaceae</text>
<text x="656" y="1859">Trichocomaceae</text>
<text x="952" y="1834">Davidiellaceae</text>
<text x="1406" y="1760">Dermateaceae</text>
<text x="1334" y="1673">Boletaceae</text>
<text x="1365" y="1845">Herpotrichiellaceae</text>
<text x="1196" y="1895">Mycosphaerellaceae</text>
<text x="118" y="1917">Ophistomataceae</text>
<text x="850" y="1940">Coniochaetaceae</text>
<text x="659" y="1973">Clavicipitaceae</text>
<text x="91" y="2054">Cunninghamellaceae</text>
<text x="665" y="2095">Capnodiaceae</text>
<text x="174" y="2116">Schizothyriaceae</text>
<text x="1310" y="2120">Amphisphaeriaceae</text>
<text x="850" y="2163">Leotiaceae</text>
<text x="202" y="2182">Nectriaceae</text>
<text x="565" y="2224">Schizothyriaceae</text>
<text x="1103" y="2226">Agaricaceae</text>
<text x="275" y="2249">Diaporthaceae</text>
<text x="766" y="2425">Pleosporaceae</text>
<text x="493" y="2446">Pluteaceae</text>
</g>
</g>

<!-- ================= PANEL C ================= -->
<g id="panel-C">
<text class="pl" x="11" y="2621">C</text>
<g id="connectors-C">
<path class="eb" d="M1242 2662L949 2770M1242 2662L772 2889M1242 2662L912 2892M1242 2662L946 3006M1242 2662L1177 3076M1242 2662L1247 3099M1242 2662L1303 3068M1242 2662L1357 3113M1242 2662L1192 3137"/>
<path class="eb" d="M1242 2662L1217 3196M1242 2662L1264 3223M1242 2662L1339 3400M1242 2662L1447 3652M1242 2662L1385 3291M1242 2662L1343 3228M1242 2662L1292 3269M1242 2662L1245 2929M1242 2662L1270 3346"/>
<path class="eb" d="M401 3038L919 3180M401 3038L1109 3089M401 3038L1042 3143M401 3038L1128 3151M401 3038L1150 3201M401 3038L782 3244M401 3038L580 3069M401 3038L824 3025M401 3038L1177 3076"/>
<path class="eb" d="M348 3112L919 3180M348 3112L1042 3143M348 3112L1128 3151M348 3112L1150 3201M348 3112L782 3244M348 3112L1093 3232M348 3112L1109 3089"/>
<path class="eb" d="M348 3207L919 3180M348 3207L782 3244M348 3207L1042 3143M348 3207L1128 3151M348 3207L1150 3201M348 3207L1093 3232M348 3207L1026 3303M348 3207L1144 3282M348 3207L1109 3089M348 3207L580 3069M348 3207L1190 3244"/>
<path class="eb" d="M497 3152L1128 3151M497 3152L1150 3201M497 3152L1026 3303M497 3152L1042 3143M497 3152L1093 3232M580 3069L919 3180M580 3069L1109 3089M580 3069L1128 3151M580 3069L1042 3143"/>
<path class="eb" d="M401 3038L1192 3137M401 3038L1217 3196M401 3038L1093 3232M401 3038L1026 3303M401 3038L1144 3282M348 3112L1177 3076M348 3112L1192 3137M348 3112L1217 3196M348 3112L1190 3244M348 3112L1144 3282M348 3112L1026 3303"/>
<path class="eb" d="M348 3207L1192 3137M348 3207L1217 3196M348 3207L1177 3076M497 3152L1109 3089M497 3152L1177 3076M497 3152L1192 3137M497 3152L1190 3244M497 3152L1144 3282M580 3069L1150 3201M580 3069L1177 3076M580 3069L1192 3137M580 3069L1093 3232"/>
<path class="eb" d="M348 3761L782 3244M348 3761L919 3180M348 3761L815 3472M348 3761L1042 3143M348 3761L1128 3151M348 3761L1150 3201M348 3761L1093 3232M348 3761L1026 3303M348 3761L1144 3282M348 3761L1118 3419M348 3761L1229 3493"/>
<path class="eb" d="M348 3761L1184 3353M348 3761L1109 3089M348 3761L735 3384M348 3761L1190 3244M348 3761L1224 3286M348 3761L1192 3137M348 3761L1217 3196M348 3761L1264 3223M348 3761L824 3025M348 3761L691 3668M348 3761L1339 3400M348 3761L1270 3346M348 3761L1301 3605"/>
<path class="eb" d="M691 3668L1026 3303M691 3668L1184 3353M691 3668L1118 3419M691 3668L1229 3493M691 3668L1150 3201M691 3668L782 3244M691 3668L919 3180M691 3668L735 3384M691 3668L1144 3282M691 3668L1301 3605"/>
<path class="eb" d="M772 2889L401 3038M772 2889L348 3112M824 3025L348 3112M824 3025L348 3207M824 3025L1150 3201M824 3025L1042 3143M824 3025L1177 3076M912 2892L401 3038"/>
<path class="eb" d="M919 3180L1128 3151M919 3180L1093 3232M919 3180L1042 3143M919 3180L1190 3244M919 3180L1192 3137"/>
<path class="eb" d="M1447 3652L1264 3223M1447 3652L1292 3269M1447 3652L1217 3196M1447 3652L1150 3201M1447 3652L1224 3286M1447 3652L1343 3228M1447 3652L1258 3153"/>
<path class="eb" d="M1301 3605L1150 3201M1301 3605L1264 3223M1301 3605L1224 3286M1301 3605L1190 3244M1301 3605L1217 3196M1301 3605L1192 3137"/>
<path class="eb" d="M735 3384L1150 3201M815 3472L1144 3282M815 3472L1184 3353M815 3472L1229 3493M735 3384L1128 3151M735 3384L1109 3089M782 3244L1109 3089M782 3244L1128 3151M782 3244L1150 3201M782 3244L1042 3143"/>
<path class="eb" d="M1142 2961L1303 3068M1245 2929L1303 3068M1245 2929L1357 3113M1245 2929L1192 3137"/>
<path class="er" d="M949 2770L1008 2955M949 2770L912 2892M949 2770L946 3006M949 2770L1109 3089M1079 2886L1008 2955M1079 2886L1142 2961M1079 2886L1109 3089M1079 2886L1177 3076"/>
<path class="er" d="M772 2889L912 2892M772 2889L946 3006M772 2889L1008 2955M912 2892L1008 2955M912 2892L946 3006M912 2892L1109 3089"/>
<path class="er" d="M1008 2955L1142 2961M1008 2955L1109 3089M1008 2955L1177 3076M1008 2955L1128 3151M1008 2955L946 3006M946 3006L1109 3089M946 3006L1128 3151M946 3006L824 3025"/>
<path class="er" d="M824 3025L580 3069M824 3025L782 3244M824 3025L1109 3089M824 3025L1128 3151M580 3069L348 3112M580 3069L497 3152M401 3038L348 3112M401 3038L497 3152"/>
<path class="er" d="M348 3112L348 3207M348 3112L497 3152M497 3152L348 3207M497 3152L919 3180M782 3244L815 3472M735 3384L815 3472M735 3384L919 3180M815 3472L691 3668M815 3472L1026 3303"/>
<path class="er" d="M1242 2662L1142 2961M1242 2662L1109 3089M1245 2929L1142 2961M1245 2929L1177 3076M1245 2929L1247 3099M1142 2961L1109 3089M1142 2961L1177 3076M1142 2961L1247 3099M1142 2961L1128 3151"/>
<path class="er" d="M1109 3089L1177 3076M1109 3089L1128 3151M1109 3089L1192 3137M1109 3089L1247 3099M1109 3089L1150 3201M1109 3089L1217 3196M1109 3089L1042 3143"/>
<path class="er" d="M1177 3076L1247 3099M1177 3076L1192 3137M1177 3076L1128 3151M1177 3076L1217 3196M1177 3076L1150 3201"/>
<path class="er" d="M1247 3099L1303 3068M1247 3099L1192 3137M1247 3099L1258 3153M1247 3099L1217 3196M1247 3099L1357 3113M1247 3099L1264 3223"/>
<path class="er" d="M1303 3068L1357 3113M1303 3068L1258 3153M1303 3068L1311 3181M1357 3113L1383 3167M1357 3113L1311 3181M1357 3113L1258 3153M1357 3113L1385 3291"/>
<path class="er" d="M1042 3143L1128 3151M1042 3143L1150 3201M1042 3143L1093 3232M1128 3151L1192 3137M1128 3151L1150 3201M1128 3151L1217 3196M1128 3151L1093 3232M1128 3151L1190 3244"/>
<path class="er" d="M1192 3137L1258 3153M1192 3137L1217 3196M1192 3137L1264 3223M1258 3153L1311 3181M1258 3153L1217 3196M1258 3153L1264 3223M1258 3153L1292 3269"/>
<path class="er" d="M1383 3167L1311 3181M1383 3167L1343 3228M1383 3167L1385 3291M1383 3167L1292 3269M1311 3181L1217 3196M1311 3181L1264 3223M1311 3181L1343 3228M1311 3181L1292 3269"/>
<path class="er" d="M1150 3201L1217 3196M1150 3201L1093 3232M1150 3201L1190 3244M1150 3201L1144 3282M1150 3201L1224 3286"/>
<path class="er" d="M1217 3196L1264 3223M1217 3196L1190 3244M1217 3196L1224 3286M1217 3196L1292 3269M1264 3223L1343 3228M1264 3223L1292 3269M1264 3223L1224 3286M1264 3223L1229 3493"/>
<path class="er" d="M1343 3228L1292 3269M1343 3228L1385 3291M1343 3228L1339 3400M1093 3232L1144 3282M1093 3232L1026 3303M1190 3244L1144 3282M1190 3244L1224 3286"/>
<path class="er" d="M1292 3269L1385 3291M1292 3269L1224 3286M1292 3269L1270 3346M1292 3269L1339 3400M1144 3282L1224 3286M1144 3282L1026 3303M1144 3282L1184 3353M1224 3286L1184 3353M1224 3286L1270 3346"/>
<path class="er" d="M1026 3303L1184 3353M1184 3353L1270 3346M1270 3346L1339 3400M1385 3291L1339 3400M1184 3353L1118 3419M1184 3353L1229 3493M1270 3346L1229 3493M1224 3286L1229 3493M1144 3282L1229 3493"/>
<path class="er" d="M1339 3400L1301 3605M1339 3400L1447 3652M1270 3346L1447 3652M1229 3493L1301 3605M1301 3605L1447 3652M1385 3291L1447 3652M1224 3286L1301 3605M1270 3346L1301 3605"/>
<path class="er" d="M919 3180L1109 3089M919 3180L1150 3201M919 3180L1026 3303M919 3180L1144 3282M1026 3303L1150 3201M1026 3303L1118 3419M1118 3419L1229 3493M1177 3076L1150 3201M782 3244L919 3180M782 3244L1026 3303"/>
</g>
<g id="nodes-C">
<g id="c-annelida" class="node"><circle cx="1242" cy="2662" r="42" fill="#005555"/></g>
<g id="c-mesofilidae" class="node"><circle cx="949" cy="2770" r="20" fill="#ff4400"/></g>
<g id="c-colpodidae" class="node"><circle cx="1079" cy="2886" r="19" fill="#ee0000"/></g>
<g id="c-centroheliozoa" class="node"><circle cx="772" cy="2889" r="19" fill="#7a5000"/></g>
<g id="c-lecithoepitheliata" class="node"><circle cx="912" cy="2892" r="21" fill="#660000"/></g>
<g id="c-pseudodifflugiidae" class="node"><circle cx="1008" cy="2955" r="19" fill="#660000"/></g>
<g id="c-gregarines" class="node"><circle cx="1245" cy="2929" r="19" fill="#000055"/></g>
<g id="c-enoplea" class="node"><circle cx="1142" cy="2961" r="34" fill="#000099"/></g>
<g id="c-leptophryidae" class="node"><circle cx="401" cy="3038" r="33" fill="#11ee11"/></g>
<g id="c-chromadorea" class="node"><circle cx="824" cy="3025" r="33" fill="#00bb00"/></g>
<g id="c-n11" class="node"><circle cx="946" cy="3006" r="19" fill="#cc2200"/></g>
<g id="c-n12" class="node"><circle cx="580" cy="3069" r="23" fill="#00ee00"/></g>
<g id="c-rotifera" class="node"><circle cx="348" cy="3112" r="47" fill="#33bb00"/></g>
<g id="c-vampyrellida" class="node"><circle cx="497" cy="3152" r="30" fill="#339900"/></g>
<g id="c-cercozoa" class="node"><circle cx="919" cy="3180" r="50" fill="#333333"/></g>
<g id="c-gastrotricha" class="node"><circle cx="348" cy="3207" r="33" fill="#22ff22"/></g>
<g id="c-dinophyceae" class="node"><circle cx="782" cy="3244" r="19" fill="#003322"/></g>
<g id="c-platyophryidae" class="node"><circle cx="735" cy="3384" r="19" fill="#333333"/></g>
<g id="c-chelicerata" class="node"><circle cx="815" cy="3472" r="20" fill="#333333"/></g>
<g id="c-tardigrada" class="node"><circle cx="691" cy="3668" r="19" fill="#008800"/></g>
<g id="c-rhabdocoela" class="node"><circle cx="348" cy="3761" r="28" fill="#11bb11"/></g>
<g id="c-trinematidae" class="node"><circle cx="1109" cy="3089" r="38" fill="#a80010"/></g>
<g id="c-n23" class="node"><circle cx="1177" cy="3076" r="19" fill="#0000cc"/></g>
<g id="c-spongomonadidae" class="node"><circle cx="1247" cy="3099" r="23" fill="#3a10ee"/></g>
<g id="c-cyrtolophosididae" class="node"><circle cx="1303" cy="3068" r="20" fill="#2a10e8"/></g>
<g id="c-n26" class="node"><circle cx="1357" cy="3113" r="20" fill="#8010d0"/></g>
<g id="c-euglyphidae" class="node"><circle cx="1042" cy="3143" r="20" fill="#0020ff"/></g>
<g id="c-n28" class="node"><circle cx="1128" cy="3151" r="35" fill="#2a10e0"/></g>
<g id="c-n29" class="node"><circle cx="1192" cy="3137" r="20" fill="#3a10c8"/></g>
<g id="c-n30" class="node"><circle cx="1258" cy="3153" r="21" fill="#9010d0"/></g>
<g id="c-n31" class="node"><circle cx="1383" cy="3167" r="19" fill="#a00080"/></g>
<g id="c-catenulidae" class="node"><circle cx="1311" cy="3181" r="31" fill="#ee0066"/></g>
<g id="c-n33" class="node"><circle cx="1150" cy="3201" r="34" fill="#4a0a90"/></g>
<g id="c-sandonidae" class="node"><circle cx="1217" cy="3196" r="30" fill="#ff10a0"/></g>
<g id="c-n35" class="node"><circle cx="1264" cy="3223" r="31" fill="#1a10ff"/></g>
<g id="c-paracercomonadidae" class="node"><circle cx="1343" cy="3228" r="25" fill="#560090"/></g>
<g id="c-n37" class="node"><circle cx="1093" cy="3232" r="20" fill="#0820ff"/></g>
<g id="c-n38" class="node"><circle cx="1190" cy="3244" r="19" fill="#a00060"/></g>
<g id="c-n39" class="node"><circle cx="1292" cy="3269" r="29" fill="#8010b8"/></g>
<g id="c-opisthokonta" class="node"><circle cx="1385" cy="3291" r="28" fill="#6a10e8"/></g>
<g id="c-n41" class="node"><circle cx="1144" cy="3282" r="31" fill="#d00058"/></g>
<g id="c-maxillopoda" class="node"><circle cx="1224" cy="3286" r="30" fill="#3d0a98"/></g>
<g id="c-n43" class="node"><circle cx="1026" cy="3303" r="33" fill="#4a0070"/></g>
<g id="c-n44" class="node"><circle cx="1184" cy="3353" r="19" fill="#c80000"/></g>
<g id="c-blepharismidae" class="node"><circle cx="1270" cy="3346" r="19" fill="#ff1010"/></g>
<g id="c-chrysophyceae" class="node"><circle cx="1339" cy="3400" r="20" fill="#600040"/></g>
<g id="c-vorticellidae" class="node"><circle cx="1118" cy="3419" r="19" fill="#0000a0"/></g>
<g id="c-rhizaria" class="node"><circle cx="1229" cy="3493" r="23" fill="#bb0000"/></g>
<g id="c-euglyphida" class="node"><circle cx="1301" cy="3605" r="19" fill="#006600"/></g>
<g id="c-arachnida" class="node"><circle cx="1447" cy="3652" r="42" fill="#000055"/></g>
</g>
<g id="labels-C" class="lbl lc">
<text x="1157" y="2611">Annelida</text>
<text x="838" y="2735">Mesofilidae</text>
<text x="644" y="2857">Lecithoepitheliata</text>
<text x="982" y="2853">Colpodidae</text>
<text x="457" y="2915">Centroheliozoa</text>
<text x="768" y="2940">Pseudodifflugiidae</text>
<text x="1272" y="2911">Gregarines</text>
<text x="211" y="2987">Leptophryidae</text>
<text x="645" y="2984">Chromadorea</text>
<text x="1181" y="2994">Enoplea</text>
<text x="1260" y="3037">Spongomonadidae</text>
<text x="1002" y="3044">Trinematidae</text>
<text x="1216" y="3077">Cyrtolophosididae</text>
<text x="841" y="3118">Euglyphidae</text>
<text x="138" y="3123">Rotifera</text>
<text x="1289" y="3150">Catenulidae</text>
<text x="563" y="3158">Vampyrellida</text>
<text x="1265" y="3200">Sandonidae</text>
<text x="1401" y="3249">Paracercomonadidae</text>
<text x="856" y="3263">Cercozoa</text>
<text x="239" y="3280">Gastrotricha</text>
<text x="600" y="3299">Dinophyceae</text>
<text x="1429" y="3305">Opisthokonta</text>
<text x="1069" y="3327">Maxillopoda</text>
<text x="1309" y="3365">Blepharismidae</text>
<text x="938" y="3390">Vorticellidae</text>
<text x="1377" y="3414">Chrysophyceae</text>
<text x="497" y="3446">Platyophryidae</text>
<text x="1020" y="3479">Rhizaria</text>
<text x="716" y="3529">Chelicerata</text>
<text x="1136" y="3661">Euglyphida</text>
<text x="132" y="3701">Rhabdocoela</text>
<text x="585" y="3730">Tardigrada</text>
<text x="1376" y="3734">Arachnida</text>
</g>
</g>

<!-- ================= LEGEND ================= -->
<g id="legend">
<rect x="23" y="3868" width="56" height="54" fill="#ff0000"/>
<text class="lg" transform="translate(90 3917) scale(0.91 1)">- <tspan class="it">V. corymbosum</tspan> (SHB)</text>
<rect x="781" y="3868" width="58" height="54" fill="#0a00ff"/>
<text class="lg" transform="translate(847 3917) scale(0.91 1)">- <tspan class="it">V. darrowii</tspan> (Vd)</text>
<rect x="1370" y="3868" width="58" height="54" fill="#22ff11"/>
<text class="lg" transform="translate(1435 3917) scale(0.91 1)">- <tspan class="it">V. virgatum</tspan> (Vg)</text>
</g>
</svg>
